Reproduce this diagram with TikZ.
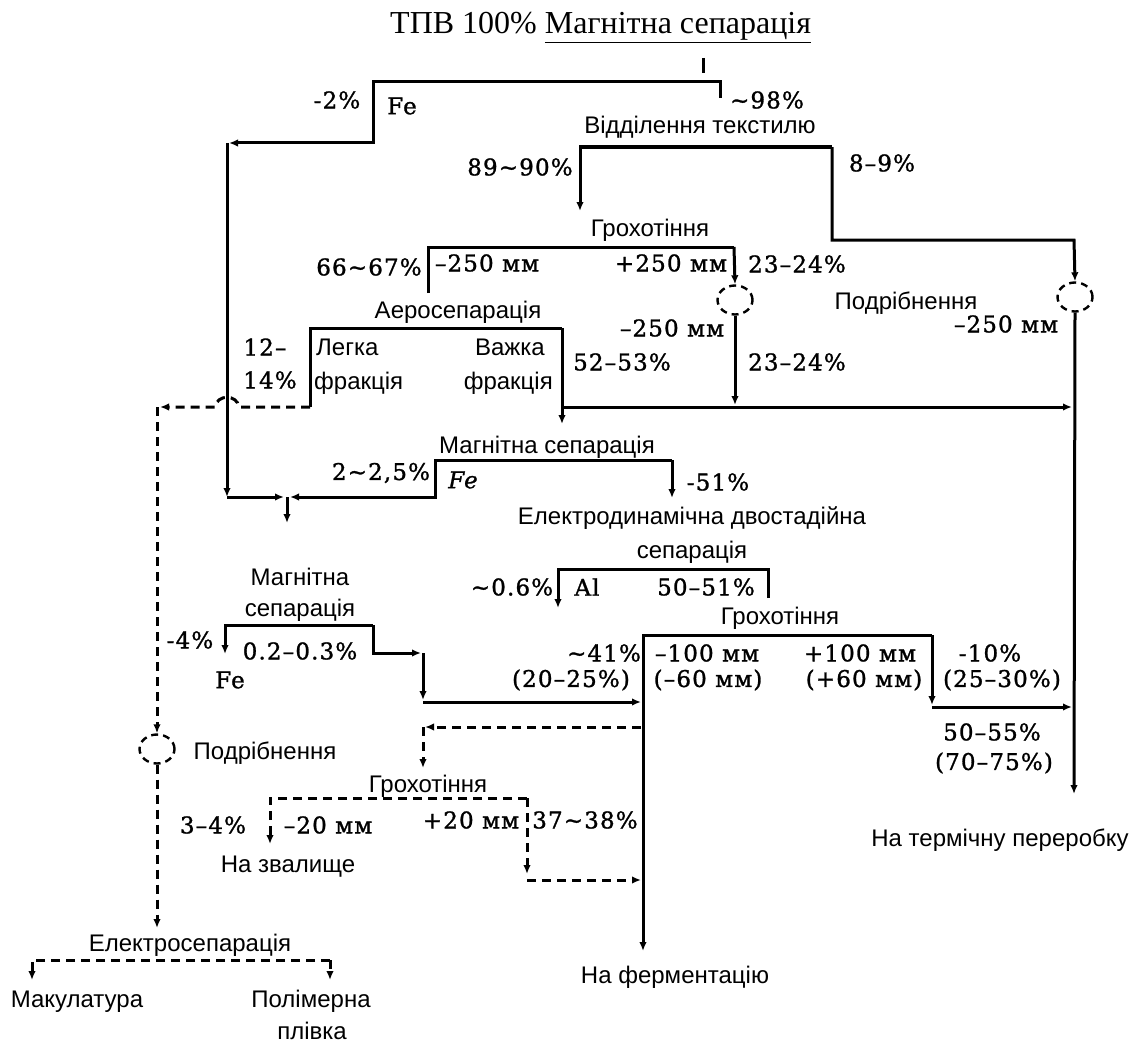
\documentclass[tikz,border=0pt]{standalone}
\usepackage{fontspec}
\setmainfont{Liberation Sans}
\newfontfamily\scanf[LetterSpace=5,FakeBold=1.2]{DejaVu Serif}
\newfontfamily\titlef{Liberation Serif}
\usetikzlibrary{arrows.meta,shapes.geometric}
\newcommand\tld{\textasciitilde}
\tikzset{
  ln/.style={line width=3pt},
  dl/.style={line width=3pt, dash pattern=on 9pt off 6pt},
  tip/.style={-{Latex[length=9pt,width=7.5pt]}},
  sans/.style={font=\fontsize{24}{28}\selectfont, inner sep=0pt},
  num/.style={font=\scanf\fontsize{23}{26}\selectfont, inner sep=0pt},
  crush/.style={ellipse, draw, line width=2.4pt, dash pattern=on 7pt off 5pt, minimum width=35pt, minimum height=29pt, inner sep=0pt}
}
\begin{document}
\begin{tikzpicture}[x=1pt,y=-1pt]
\useasboundingbox (0,0) rectangle (1140,1046);

% ---------- title ----------
\node[anchor=base west, inner sep=0pt, font=\titlef\fontsize{32}{36}\selectfont] (title) at (390,34) {ТПВ 100\% \underline{Магнітна сепарація}};

% ---------- coordinates ----------
\coordinate (feedA) at (703,58); \coordinate (feedB) at (703,73);
\coordinate (t1l) at (373,82); \coordinate (t1r) at (720,82); \coordinate (t1rd) at (720,98);
\coordinate (t1ld) at (373,143); \coordinate (feL) at (229,143);
\coordinate (feLt) at (227,143); \coordinate (feLb) at (227,497);
\coordinate (jnL) at (284,497); \coordinate (jnR) at (290,497);
\coordinate (jn) at (287,497); \coordinate (jnd) at (287,523);

\coordinate (v1l) at (580,147); \coordinate (v1r) at (832,147);
\coordinate (v1ld) at (580,211); \coordinate (v1rd) at (832,240); \coordinate (crR) at (1074,240);

\coordinate (g1l) at (428,247); \coordinate (g1r) at (734,247); \coordinate (g1ld) at (428,293);

\coordinate (a1l) at (310,328); \coordinate (a1r) at (562,328);
\coordinate (a1ld) at (310,407); \coordinate (a1rd) at (562,424);
\coordinate (h407s) at (562,407); \coordinate (h407e) at (1072,407);
\coordinate (mv407) at (735,405);
\coordinate (rEnd) at (1074,794);

\coordinate (dCx) at (160,407); \coordinate (dC) at (157,407);
\coordinate (dEs) at (157,928);
\coordinate (esl) at (32,960); \coordinate (esr) at (330,960);
\coordinate (esld) at (32,980); \coordinate (esrd) at (330,980);

\coordinate (m2l) at (435,460); \coordinate (m2r) at (672,460);
\coordinate (m2ld) at (435,497); \coordinate (m2rd) at (672,498);

\coordinate (e1l) at (558,569); \coordinate (e1r) at (768,569);
\coordinate (e1ld) at (558,608); \coordinate (e1rd) at (768,598);

\coordinate (m3l) at (225,625); \coordinate (m3r) at (373,625);
\coordinate (m3ld) at (225,654); \coordinate (m3rd) at (373,653);
\coordinate (m3cA) at (421,653); \coordinate (m3c) at (423,653); \coordinate (m3cd) at (423,700);
\coordinate (m3c2) at (423,702); \coordinate (g3in) at (641,702);

\coordinate (g3l) at (643,635); \coordinate (g3r) at (932,635);
\coordinate (g3rd) at (932,705); \coordinate (g3rs) at (932,707); \coordinate (g3end) at (1072,707);
\coordinate (mainEnd) at (643,951);

\coordinate (dsh1) at (641,727); \coordinate (dsh1l) at (425,727);
\coordinate (dsh1c) at (423,727); \coordinate (dsh1d) at (423,768);

\coordinate (g4l) at (270,798); \coordinate (g4r) at (527,798);
\coordinate (g4ld) at (270,844); \coordinate (g4rd) at (527,874);
\coordinate (g4rs) at (527,880); \coordinate (g4e) at (641,880);

% ---------- crushers ----------
\node[crush] (circR) at (1075,297) {};
\node[crush] (circM) at (735,300) {};
\node[crush] (circL) at (157,749) {};

% ---------- solid flows ----------
\draw[ln] (feedA) -- (feedB);
\draw[ln,tip] (t1rd) -- (t1r) -- (t1l) -- (t1ld) -- (feL);
\draw[ln,tip] (feLt) -- (feLb);
\draw[ln,tip] (feLb) -- (jnL);
\draw[ln,tip] (m2r) -- (m2l) -- (m2ld) -- (jnR);
\draw[ln,tip] (m2r) -- (m2rd);
\draw[ln,tip] (jn) -- (jnd);

\draw[ln,tip] (v1r) -- (v1l) -- (v1ld);
\draw[ln,tip] (v1r) -- (v1rd) -- (crR) -- (circR.north);
\draw[ln] (g1ld) -- (g1l) -- (g1r);
\draw[ln,tip] (g1r) -- (circM.north);
\draw[ln,tip] (circM.south) -- (mv407);
\draw[ln,tip] (circR.south) -- (rEnd);
\draw[ln,tip] (h407s) -- (h407e);

\draw[ln] (a1ld) -- (a1l) -- (a1r);
\draw[ln,tip] (a1r) -- (a1rd);

\draw[ln,tip] (e1rd) -- (e1r) -- (e1l) -- (e1ld);

\draw[ln,tip] (m3r) -- (m3l) -- (m3ld);
\draw[ln,tip] (m3r) -- (m3rd) -- (m3cA);
\draw[ln,tip] (m3c) -- (m3cd);
\draw[ln,tip] (m3c2) -- (g3in);

\draw[ln,tip] (g3r) -- (g3l) -- (mainEnd);
\draw[ln,tip] (g3r) -- (g3rd);
\draw[ln,tip] (g3rs) -- (g3end);

% ---------- dashed flows ----------
\draw[dl,tip] (a1ld) -- (239,407) .. controls (237,394) and (217,394) .. (215,407) -- (dCx);
\draw[dl,tip] (dC) -- (circL.north);
\draw[dl,tip] (circL.south) -- (dEs);
\draw[dl,tip] (esr) -- (esl) -- (esld);
\draw[dl,tip] (esr) -- (esrd);
\draw[dl,tip] (dsh1) -- (dsh1l);
\draw[dl,tip] (dsh1c) -- (dsh1d);
\draw[dl,tip] (g4r) -- (g4l) -- (g4ld);
\draw[dl,tip] (g4r) -- (g4rd);
\draw[dl,tip] (g4rs) -- (g4e);

% ---------- sans labels ----------
\node[sans] (lVid) at (700,127) {Відділення текстилю};
\node[sans] (lGr1) at (650,230) {Грохотіння};
\node[sans] (lAero) at (458,312) {Аеросепарація};
\node[sans] (lPod1) at (906,303) {Подрібнення};
\node[sans, anchor=west] (lLeg1) at (316,347) {Легка};
\node[sans, anchor=west] (lLeg2) at (314,383) {фракція};
\node[sans, anchor=east] (lVaz1) at (545,347) {Важка};
\node[sans, anchor=east] (lVaz2) at (553,383) {фракція};
\node[sans] (lMag2) at (547,447) {Магнітна сепарація};
\node[sans] (lEd1) at (692,518) {Електродинамічна двостадійна};
\node[sans] (lEd2) at (692,552) {сепарація};
\node[sans] (lMag3a) at (300,577) {Магнітна};
\node[sans] (lMag3b) at (300,610) {сепарація};
\node[sans] (lGr3) at (780,618) {Грохотіння};
\node[sans] (lPod3) at (265,753) {Подрібнення};
\node[sans] (lGr4) at (428,786) {Грохотіння};
\node[sans] (lTerm) at (1000,840) {На термічну переробку};
\node[sans] (lZval) at (288,867) {На звалище};
\node[sans] (lElS) at (190,945) {Електросепарація};
\node[sans] (lFerm) at (675,977) {На ферментацію};
\node[sans] (lMak) at (77,1002) {Макулатура};
\node[sans] (lPol1) at (311,1001) {Полімерна};
\node[sans] (lPol2) at (312,1031) {плівка};

% ---------- scanned number labels ----------
\node[num] (n2) at (337,100) {-2\%};
\node[num] (nFe1) at (402,106) {Fe};
\node[num] (n98) at (767,100) {\tld98\%};
\node[num] (n89) at (520,167) {89\tld90\%};
\node[num] (n8) at (882,163) {8–9\%};
\node[num] (n66) at (369,267) {66\tld67\%};
\node[num] (nm250a) at (487,263) {–250 мм};
\node[num] (np250) at (671,263) {+250 мм};
\node[num] (n23a) at (797,264) {23–24\%};
\node[num] (nm250b) at (672,328) {–250 мм};
\node[num] (nm250c) at (1006,324) {–250 мм};
\node[num] (n12) at (265,347) {12–};
\node[num] (n14) at (270,380) {14\%};
\node[num] (n52) at (622,362) {52–53\%};
\node[num] (n23b) at (797,362) {23–24\%};
\node[num] (n2a) at (381,473) {2\tld2,5\%};
\node[num] (nFe2) at (463,480) {\itshape Fe};
\node[num] (n51) at (718,482) {-51\%};
\node[num] (n06) at (512,587) {\tld0.6\%};
\node[num] (nAl) at (587,587) {Al};
\node[num] (n50) at (706,587) {50–51\%};
\node[num] (n4) at (190,640) {-4\%};
\node[num] (n02) at (300,651) {0.2–0.3\%};
\node[num] (nFe3) at (230,680) {Fe};
\node[num] (n41) at (604,653) {\tld41\%};
\node[num] (n20) at (571,680) {(20–25\%)};
\node[num] (nm100) at (707,653) {–100 мм};
\node[num] (nm60) at (708,680) {(–60 мм)};
\node[num] (np100) at (860,653) {+100 мм};
\node[num] (np60) at (864,680) {(+60 мм)};
\node[num] (n10) at (990,653) {-10\%};
\node[num] (n25) at (1002,680) {(25–30\%)};
\node[num] (n5055) at (992,732) {50–55\%};
\node[num] (n7075) at (994,763) {(70–75\%)};
\node[num] (n34) at (213,825) {3–4\%};
\node[num] (nm20) at (328,825) {–20 мм};
\node[num] (np20) at (471,820) {+20 мм};
\node[num] (n37) at (585,820) {37\tld38\%};
\end{tikzpicture}
\end{document}
